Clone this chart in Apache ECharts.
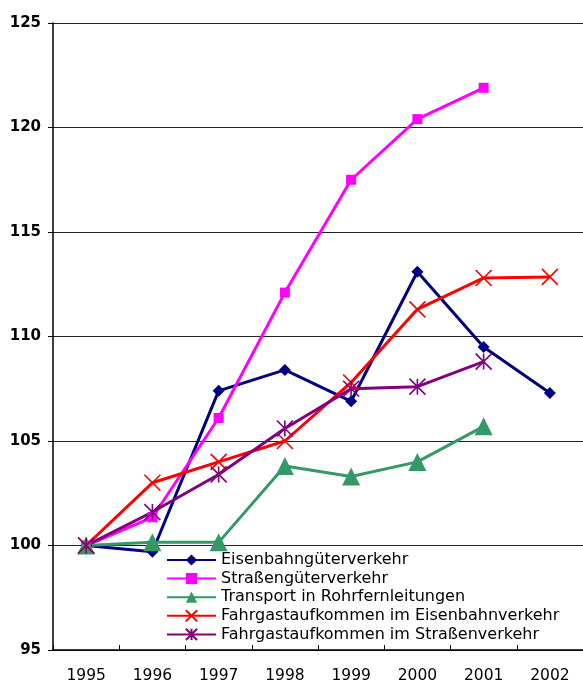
<!DOCTYPE html>
<html>
<head>
<meta charset="utf-8">
<script src="https://cdn.jsdelivr.net/npm/echarts@6/dist/echarts.min.js"></script>
<style>
  html, body { margin: 0; padding: 0; background: #fff; }
  #chart { width: 583px; height: 684px; }
</style>
</head>
<body>
<div id="chart"></div>
<script>
// Index values, 1995 = 100
const years = ['1995', '1996', '1997', '1998', '1999', '2000', '2001', '2002'];
const eisenbahnGueter = [100, 99.7, 107.4, 108.4, 106.9, 113.1, 109.5, 107.3];
const strassenGueter = [100, 101.35, 106.1, 112.1, 117.5, 120.4, 121.9, null];
const rohrfernleitungen = [100, 100.15, 100.15, 103.8, 103.3, 104.0, 105.7, null];
const fahrgastEisenbahn = [100, 103.0, 104.0, 105.0, 107.8, 111.3, 112.8, 112.85];
const fahrgastStrasse = [100, 101.6, 103.4, 105.6, 107.5, 107.6, 108.8, null];
const yTicks = { min: 95, max: 125, interval: 5 };

const FONT = 'DejaVu Sans';
const crossPath = 'path://M0,0L10,10M10,0L0,10';
const starPath = 'path://M0,0L10,10M10,0L0,10M5,0L5,10';

function lineSeries(name, data, color, symbol, size, stroked) {
  return {
    name: name,
    type: 'line',
    data: data,
    symbol: symbol,
    symbolSize: size,
    showAllSymbol: true,
    connectNulls: false,
    lineStyle: { color: color, width: 3 },
    itemStyle: stroked
      ? { color: 'rgba(0,0,0,0)', borderColor: color, borderWidth: 1.6 }
      : { color: color, borderWidth: 0 },
    emphasis: { disabled: true }
  };
}

const chart = echarts.init(document.getElementById('chart'));
chart.setOption({
  animation: false,
  backgroundColor: '#fff',
  grid: { left: 53, right: -4, top: 23, bottom: 34 },
  legend: {
    orient: 'vertical',
    left: 166,
    top: 552,
    itemWidth: 49,
    itemHeight: 14,
    itemGap: 2.6,
    padding: 0,
    textStyle: { fontFamily: FONT, fontSize: 16, color: '#000', padding: [0, 0, 0, 0] },
    data: [
      'Eisenbahngüterverkehr',
      'Straßengüterverkehr',
      'Transport in Rohrfernleitungen',
      'Fahrgastaufkommen im Eisenbahnverkehr',
      'Fahrgastaufkommen im Straßenverkehr'
    ]
  },
  xAxis: {
    type: 'category',
    data: years,
    boundaryGap: true,
    axisLine: { lineStyle: { color: '#000', width: 1.5 } },
    axisTick: { show: true, inside: true, length: 5, alignWithLabel: false, lineStyle: { color: '#000' } },
    axisLabel: { fontFamily: FONT, fontSize: 15.5, color: '#000', margin: 18 },
    splitLine: { show: false }
  },
  yAxis: {
    type: 'value',
    min: yTicks.min,
    max: yTicks.max,
    interval: yTicks.interval,
    axisLine: { show: true, lineStyle: { color: '#000', width: 1.5 } },
    axisTick: { show: true, inside: false, length: 5, lineStyle: { color: '#000' } },
    axisLabel: { fontFamily: FONT, fontSize: 15, fontWeight: 'bold', color: '#000', margin: 12 },
    splitLine: { show: true, lineStyle: { color: '#222', width: 1 } }
  },
  series: [
    lineSeries('Eisenbahngüterverkehr', eisenbahnGueter, '#000080', 'diamond', 12, false),
    lineSeries('Straßengüterverkehr', strassenGueter, '#FF00FF', 'rect', 10, false),
    lineSeries('Transport in Rohrfernleitungen', rohrfernleitungen, '#339966', 'triangle', 18, false),
    lineSeries('Fahrgastaufkommen im Eisenbahnverkehr', fahrgastEisenbahn, '#FF0000', crossPath, 16, true),
    lineSeries('Fahrgastaufkommen im Straßenverkehr', fahrgastStrasse, '#800080', starPath, 16, true)
  ]
});
</script>
</body>
</html>
